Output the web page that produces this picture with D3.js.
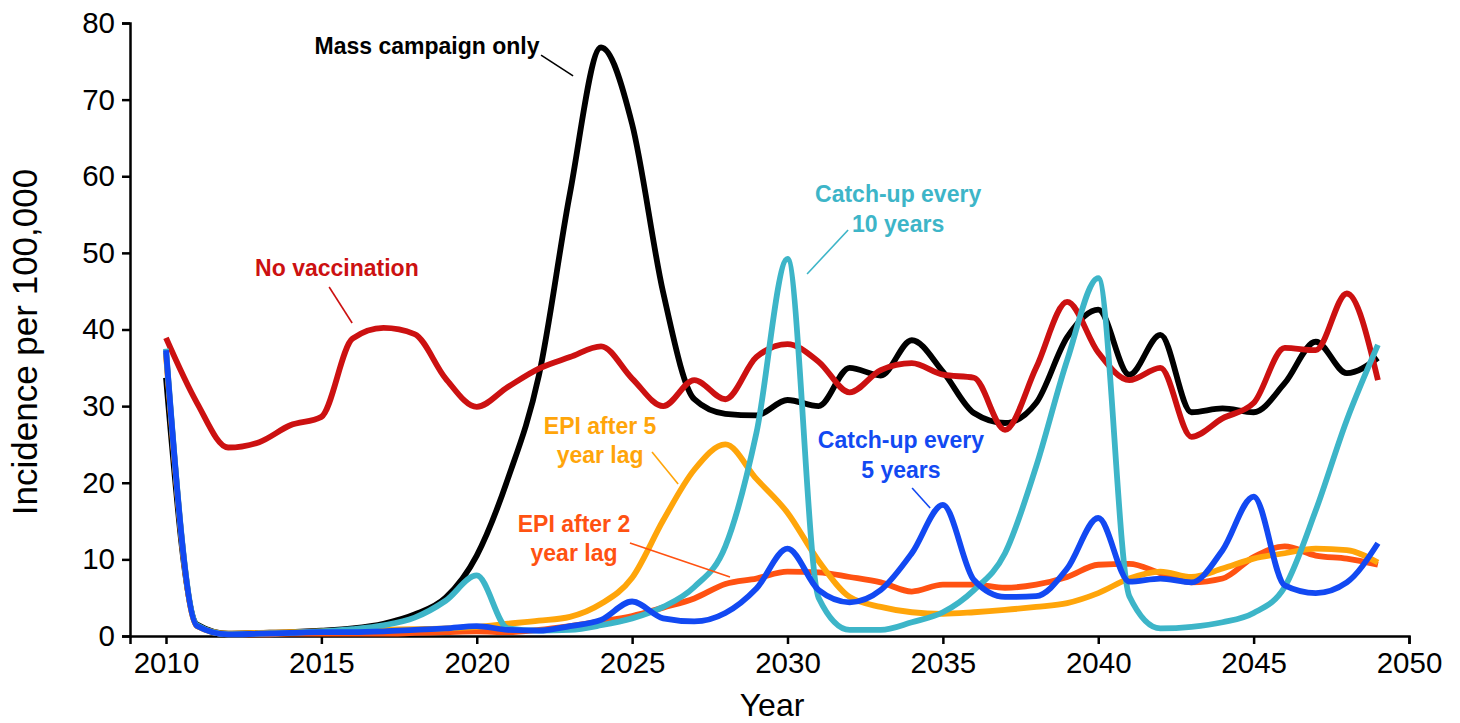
<!DOCTYPE html>
<html>
<head>
<meta charset="utf-8">
<script src="https://cdn.jsdelivr.net/npm/d3@7"></script>
<style>
  html, body { margin: 0; padding: 0; background: #fff; }
  svg { display: block; }
  text { font-family: "Liberation Sans", Arial, Helvetica, sans-serif; }
</style>
</head>
<body>
<svg id="chart" width="1460" height="723"></svg>
<script>
// Simulated incidence per 100,000, one value per year (2010–2049)
const years = [2010, 2011, 2012, 2013, 2014, 2015, 2016, 2017, 2018, 2019,
               2020, 2021, 2022, 2023, 2024, 2025, 2026, 2027, 2028, 2029,
               2030, 2031, 2032, 2033, 2034, 2035, 2036, 2037, 2038, 2039,
               2040, 2041, 2042, 2043, 2044, 2045, 2046, 2047, 2048, 2049];

const noVaccination = [38.9, 30.4, 24.6, 25.3, 27.5, 28.6, 38.8, 40.2, 39.4, 33.6,
                       29.9, 32.5, 34.9, 36.4, 37.8, 33.6, 30.0, 33.4, 30.9, 36.4,
                       38.1, 35.8, 31.8, 34.7, 35.6, 34.1, 33.7, 26.9, 35.0, 43.6,
                       37.0, 33.4, 35.0, 26.0, 28.4, 30.4, 37.6, 37.3, 44.7, 33.4];

const massCampaignOnly = [33.7, 1.5, 0.3, 0.4, 0.5, 0.7, 1.0, 1.6, 2.8, 5.0,
                          10.5, 20.5, 34.0, 57.8, 76.8, 66.8, 44.8, 30.9, 29.0, 28.8,
                          30.8, 30.0, 35.0, 34.0, 38.6, 34.5, 29.1, 27.8, 30.4, 39.0,
                          42.6, 34.1, 39.3, 29.2, 29.7, 29.2, 33.0, 38.4, 34.3, 36.3];

const epiAfter2 = [37.0, 1.3, 0.2, 0.2, 0.3, 0.3, 0.3, 0.3, 0.4, 0.5,
                   0.6, 0.5, 0.8, 1.3, 1.9, 2.6, 3.7, 4.9, 6.8, 7.5,
                   8.4, 8.3, 7.7, 7.0, 5.8, 6.7, 6.7, 6.3, 6.7, 7.7,
                   9.3, 9.4, 8.2, 7.0, 7.5, 10.3, 11.7, 10.5, 10.1, 9.3];

const epiAfter5 = [36.8, 1.3, 0.3, 0.4, 0.5, 0.6, 0.7, 0.8, 0.9, 1.0,
                   1.2, 1.6, 2.0, 2.5, 4.2, 7.6, 15.1, 21.7, 25.0, 20.5,
                   16.1, 9.8, 5.1, 3.8, 3.1, 2.9, 3.1, 3.4, 3.8, 4.3,
                   5.6, 7.5, 8.4, 7.7, 8.8, 10.1, 10.8, 11.4, 11.2, 9.6];

const catchUp10 = [37.5, 1.4, 0.2, 0.3, 0.4, 0.6, 0.9, 1.4, 2.4, 4.6,
                   7.9, 1.0, 0.7, 0.8, 1.4, 2.3, 3.8, 6.4, 11.7, 26.5,
                   49.2, 5.0, 0.8, 0.8, 1.8, 3.1, 6.0, 10.8, 22.1, 36.0,
                   46.7, 5.2, 1.0, 1.2, 1.8, 3.0, 6.4, 16.4, 28.2, 38.0];

const catchUp5 = [37.3, 1.3, 0.2, 0.3, 0.4, 0.5, 0.5, 0.6, 0.8, 1.0,
                  1.3, 0.8, 0.7, 1.3, 2.1, 4.5, 2.3, 1.9, 3.0, 6.2,
                  11.4, 6.0, 4.4, 6.0, 10.8, 17.1, 7.3, 5.1, 5.2, 8.8,
                  15.4, 7.1, 7.5, 7.0, 11.2, 18.2, 6.6, 5.6, 7.0, 12.1];

const xTicks = [2010, 2015, 2020, 2025, 2030, 2035, 2040, 2045, 2050];
const yTicks = [0, 10, 20, 30, 40, 50, 60, 70, 80];

// Series in drawing order (later ones sit on top)
const series = [
  { values: massCampaignOnly, color: "#000000" },
  { values: noVaccination,    color: "#cc1111" },
  { values: epiAfter2,        color: "#ff5212" },
  { values: epiAfter5,        color: "#ffa50a" },
  { values: catchUp10,        color: "#3db5c8" },
  { values: catchUp5,         color: "#1249f2" }
];

// Text labels with leader lines, positioned in data units
const notes = [
  { lines: ["Mass campaign only"], at: [2018.40, 76.0], color: "#000000",
    from: [2022.07, 75.8], to: [2023.10, 73.1] },
  { lines: ["No vaccination"], at: [2015.50, 47.0], color: "#cc1111",
    from: [2015.25, 45.55], to: [2015.99, 40.85] },
  { lines: ["Catch-up every", "10 years"], at: [2033.56, 56.6], color: "#3db5c8",
    from: [2031.95, 52.99], to: [2030.63, 47.24] },
  { lines: ["EPI after 5", "year lag"], at: [2023.97, 26.4], color: "#ffa50a",
    from: [2025.64, 24.01], to: [2026.48, 19.84] },
  { lines: ["EPI after 2", "year lag"], at: [2023.13, 13.6], color: "#ff5212",
    from: [2024.93, 12.14], to: [2028.15, 7.70] },
  { lines: ["Catch-up every", "5 years"], at: [2033.65, 24.5], color: "#1249f2",
    from: [2034.01, 19.31], to: [2034.59, 16.70] }
];

const svg = d3.select("#chart");
svg.append("rect").attr("width", 1460).attr("height", 723).attr("fill", "#fff");

const x = d3.scaleLinear().domain([2010, 2050]).range([166, 1409]);
const y = d3.scaleLinear().domain([0, 80]).range([636, 23]);

// The x axis line starts at the y axis, a little before 2010
const xAxisScale = d3.scaleLinear().domain([x.invert(130), 2050]).range([130, 1409]);

const xAxis = svg.append("g")
  .attr("transform", `translate(0,${y(0)})`)
  .call(d3.axisBottom(xAxisScale).tickValues(xTicks).tickFormat(d3.format("d"))
        .tickSize(8).tickPadding(8));

const yAxis = svg.append("g")
  .attr("transform", "translate(130,0)")
  .call(d3.axisLeft(y).tickValues(yTicks).tickSize(8).tickPadding(7));

[xAxis, yAxis].forEach(g => {
  g.select(".domain").attr("stroke", "#000").attr("stroke-width", 2.5);
  g.selectAll(".tick line").attr("stroke", "#000").attr("stroke-width", 2.5);
  g.selectAll(".tick text").attr("fill", "#000").style("font-size", "29.5px")
    .style("font-family", "'Liberation Sans', Arial, sans-serif");
});

// Axis titles
svg.append("text")
  .attr("x", 772).attr("y", 716)
  .attr("text-anchor", "middle")
  .style("font-size", "32px")
  .text("Year");

svg.append("text")
  .attr("transform", "translate(37,342) rotate(-90)")
  .attr("text-anchor", "middle")
  .style("font-size", "35px")
  .text("Incidence per 100,000");

// Lines
const line = d3.line()
  .x((d, i) => x(years[i]))
  .y(d => y(d))
  .curve(d3.curveMonotoneX);

svg.append("g").selectAll("path")
  .data(series)
  .join("path")
  .attr("d", s => line(s.values))
  .attr("fill", "none")
  .attr("stroke", s => s.color)
  .attr("stroke-width", 5.8)
  .attr("stroke-linejoin", "round")
  .attr("stroke-linecap", "butt");

// Labels and leader lines
const noteG = svg.append("g");
notes.forEach(n => {
  noteG.append("line")
    .attr("x1", x(n.from[0])).attr("y1", y(n.from[1]))
    .attr("x2", x(n.to[0])).attr("y2", y(n.to[1]))
    .attr("stroke", n.color).attr("stroke-width", 1.6);
  const t = noteG.append("text")
    .attr("x", x(n.at[0])).attr("y", y(n.at[1]))
    .attr("text-anchor", "middle")
    .attr("fill", n.color)
    .style("font-size", "23px")
    .style("font-weight", "bold");
  n.lines.forEach((s, i) => {
    t.append("tspan")
      .attr("x", x(n.at[0]))
      .attr("dy", i === 0 ? 0 : 29.5)
      .text(s);
  });
});
</script>
</body>
</html>
